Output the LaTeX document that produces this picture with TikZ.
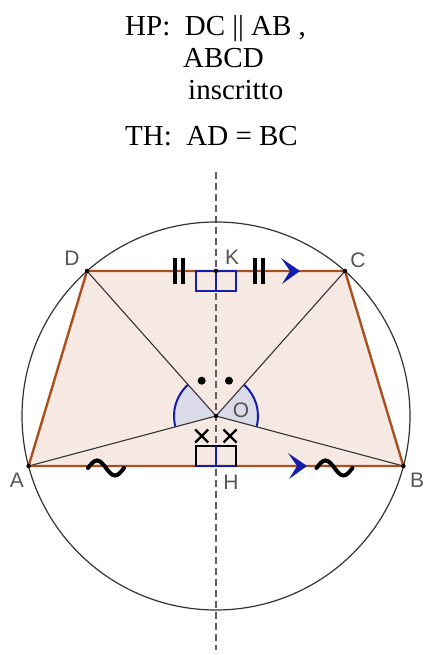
\documentclass[tikz,border=0pt]{standalone}
\usepackage{fontspec}
\setmainfont{Liberation Serif}
\newfontfamily\labelfont{Liberation Sans}
\usetikzlibrary{angles}
\definecolor{trapfill}{RGB}{246,233,227}
\definecolor{trapedge}{RGB}{170,80,30}
\definecolor{markblue}{RGB}{20,30,170}
\definecolor{wedgefill}{RGB}{218,218,232}
\definecolor{labelgray}{RGB}{85,85,85}
\definecolor{axisgray}{RGB}{95,95,95}
\begin{document}
\begin{tikzpicture}[x=1pt, y=1pt,
        hyp/.style={anchor=base west, inner sep=0pt, font=\fontsize{29}{29}\selectfont},
        lbl/.style={inner sep=0pt, text=labelgray, font=\labelfont\fontsize{21}{21}\selectfont},
        ray/.style={draw=black!80, line width=1.1pt},
        side/.style={draw=trapedge, line width=2.4pt, line join=round},
        axis/.style={draw=axisgray, line width=1.8pt, dash pattern=on 7pt off 4pt},
        tick/.style={line width=3.6pt},
        wiggle/.style={line width=4pt, line cap=round},
        cross/.style={line width=2.2pt},
        chevron/.style={fill=markblue},
        wedge/.style={draw=markblue, fill=wedgefill, line width=2pt, angle radius=42pt},
        rbox/.style={line width=1.2pt},
        pt/.style={circle, fill=black, inner sep=0pt, minimum size=4.5pt}
    ]
        \useasboundingbox (0,0) rectangle (426,655);

        % hypothesis and thesis
        \node [hyp] (hp) at (125,619) {HP:\ \ DC || AB ,};
        \node [hyp] (hp2) at (183,587) {ABCD};
        \node [hyp] (hp3) at (188,555) {inscritto};
        \node [hyp] (th) at (125,509) {TH:\ \ AD = BC};

        % points
        \coordinate (O) at (216,239);
        \coordinate (A) at (28.6,189);
        \coordinate (B) at (403.4,189);
        \coordinate (C) at (345,384);
        \coordinate (D) at (87,384);
        \coordinate (K) at (216,384);
        \coordinate (H) at (216,189);
        \coordinate (top) at (216,483);
        \coordinate (bot) at (216,5);

        \fill [trapfill] (A) -- (B) -- (C) -- (D) -- cycle;
        \pic [wedge] {angle=D--O--A};
        \pic [wedge] {angle=B--O--C};

        \draw [axis] (top) -- (bot);

        \draw [ray] (O) -- (A);
        \draw [ray] (O) -- (B);
        \draw [ray] (O) -- (C);
        \draw [ray] (O) -- (D);
        \draw [side] (A) -- (B) -- (C) -- (D) -- cycle;
        \draw [draw=black!80, line width=1.2pt] (O) circle (194);

        % right angles at K and H
        \draw [rbox, markblue] (196,364) rectangle (236,384);
        \draw [rbox, markblue] (K) -- (216,364);
        \draw [rbox] (196,209) rectangle (236,189);
        \draw [rbox, markblue] (196,189) -- (236,189);
        \draw [rbox, markblue] (H) -- (216,209);

        % equal parts on DC
        \foreach \x in {175,183,255,263}
            \draw [tick] (\x,371) -- (\x,397);
        % equal parts on AB
        \foreach \x in {88,316.5}
            \draw [wiggle] (\x,187) sin ++(9,7.5) cos ++(9,-7.5) sin ++(9,-7.5) cos ++(9,7.5);

        % parallel arrows
        \fill [chevron] (281,397) -- (300,384) -- (282,371) -- (290,384) -- cycle;
        \fill [chevron] (288,202) -- (307,189) -- (289,176) -- (297,189) -- cycle;

        % equal angles
        \fill (201.7,274.3) circle (4);
        \fill (229,274.3) circle (4);
        \foreach \x in {201.7,230}
            \draw [cross] (\x-6.5,212.5) -- (\x+6.5,225.5) (\x-6.5,225.5) -- (\x+6.5,212.5);

        \foreach \p in {A,B,C,D,K,O}
            \node [pt] at (\p) {};

        % labels
        \node [lbl] (la) at (17,175) {A};
        \node [lbl] (lb) at (417,175) {B};
        \node [lbl] (lc) at (358,395) {C};
        \node [lbl] (ld) at (72,397) {D};
        \node [lbl] (lk) at (232,398) {K};
        \node [lbl] (lh) at (231,173) {H};
        \node [lbl] (lo) at (241,244.5) {O};
    \end{tikzpicture}
\end{document}
